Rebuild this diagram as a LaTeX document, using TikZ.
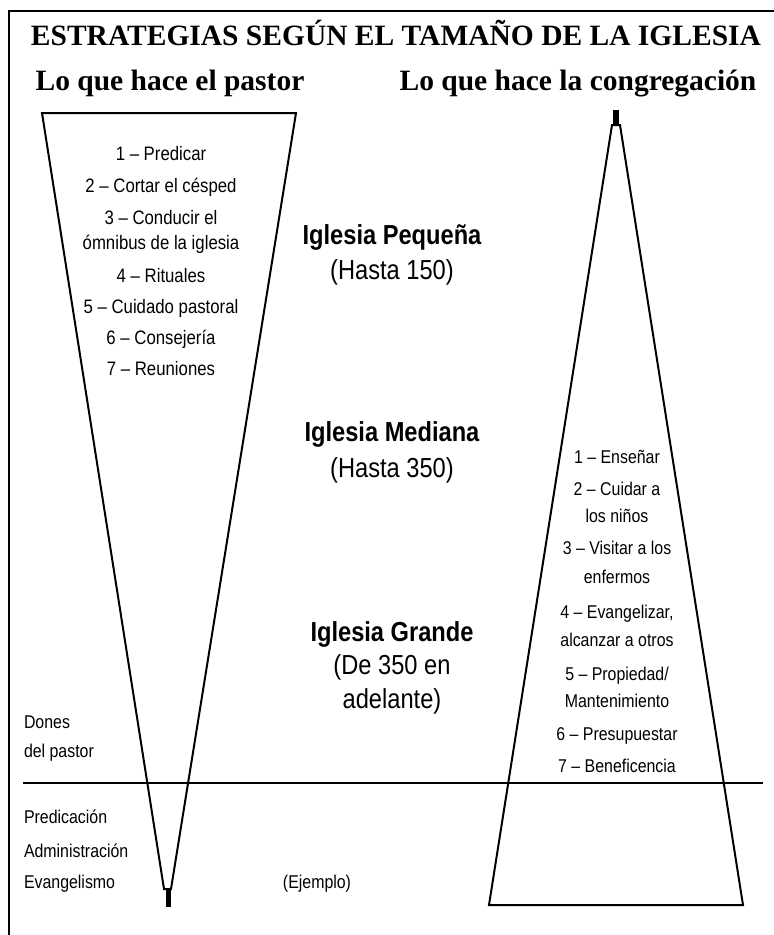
\documentclass[tikz,border=0pt]{standalone}
\usepackage{fontspec}
\setmainfont{Liberation Serif}
\newfontfamily\cond[FakeStretch=0.86]{Liberation Sans}
\begin{document}
\begin{tikzpicture}[x=1pt,y=-1pt,
  txt/.style={anchor=base, inner sep=0pt, outer sep=0pt},
  ttl/.style={txt, font=\bfseries\fontsize{29.5}{32}\selectfont},
  lista/.style={txt, font=\cond\fontsize{19.5}{22}\selectfont},
  listb/.style={txt, font=\cond\fontsize{18.5}{21}\selectfont},
  sizebold/.style={txt, font=\cond\bfseries\fontsize{27.5}{30}\selectfont},
  sizereg/.style={txt, font=\cond\fontsize{27.5}{30}\selectfont},
  side/.style={txt, anchor=base west, font=\cond\fontsize{18.5}{21}\selectfont},
  tri/.style={line width=2pt, line join=miter}]
\useasboundingbox (0,0) rectangle (774,935);
\fill[white] (0,0) rectangle (774,935);
% frame (top and left only)
\draw[line width=2.5pt] (9,935) -- (9,11) -- (774,11);
% titles
\node[ttl] (title) at (396,45) {ESTRATEGIAS SEGÚN EL TAMAÑO DE LA IGLESIA};
\node[ttl] (hpastor) at (170,90) {Lo que hace el pastor};
\node[ttl] (hcong) at (578,90) {Lo que hace la congregación};
% left inverted triangle
\coordinate (LTL) at (42,113);
\coordinate (LTR) at (296,113);
\coordinate (LBL) at (164,889);
\coordinate (LBR) at (171,889);
\draw[tri] (LBL) -- (LTL) -- (LTR) -- (LBR) -- cycle;
\fill (166,888) rectangle (171,907);
% right triangle
\coordinate (RTL) at (612,125);
\coordinate (RTR) at (620,125);
\coordinate (RBL) at (489,905);
\coordinate (RBR) at (743,905);
\draw[tri] (RTL) -- (RBL) -- (RBR) -- (RTR) -- cycle;
\fill (613,110) rectangle (619,126);
% dividing line
\coordinate (HL) at (23,783);
\coordinate (HR) at (763,783);
\draw[line width=2pt] (HL) -- (HR);
% pastor list
\node[lista] (p1) at (161,160) {1 – Predicar};
\node[lista] (p2) at (161,192) {2 – Cortar el césped};
\node[lista] (p3a) at (161,224) {3 – Conducir el};
\node[lista] (p3b) at (161,249) {ómnibus de la iglesia};
\node[lista] (p4) at (161,282) {4 – Rituales};
\node[lista] (p5) at (161,313) {5 – Cuidado pastoral};
\node[lista] (p6) at (161,344) {6 – Consejería};
\node[lista] (p7) at (161,375) {7 – Reuniones};
% church sizes
\node[sizebold] (peq) at (392,244) {Iglesia Pequeña};
\node[sizereg] (peqn) at (392,279) {(Hasta 150)};
\node[sizebold] (med) at (392,441) {Iglesia Mediana};
\node[sizereg] (medn) at (392,477) {(Hasta 350)};
\node[sizebold] (gra) at (392,641) {Iglesia Grande};
\node[sizereg] (gran1) at (392,674) {(De 350 en};
\node[sizereg] (gran2) at (392,708) {adelante)};
% congregation list
\node[listb] (c1) at (617,463) {1 – Enseñar};
\node[listb] (c2a) at (617,495) {2 – Cuidar a};
\node[listb] (c2b) at (617,522) {los niños};
\node[listb] (c3a) at (617,554) {3 – Visitar a los};
\node[listb] (c3b) at (617,583) {enfermos};
\node[listb] (c4a) at (617,618) {4 – Evangelizar,};
\node[listb] (c4b) at (617,646) {alcanzar a otros};
\node[listb] (c5a) at (617,680) {5 – Propiedad/};
\node[listb] (c5b) at (617,707) {Mantenimiento};
\node[listb] (c6) at (617,740) {6 – Presupuestar};
\node[listb] (c7) at (617,772) {7 – Beneficencia};
% side labels
\node[side] (d1) at (24,728) {Dones};
\node[side] (d2) at (24,757) {del pastor};
\node[side] (g1) at (24,823) {Predicación};
\node[side] (g2) at (24,857) {Administración};
\node[side] (g3) at (24,888) {Evangelismo};
\node[txt, font=\cond\fontsize{18.5}{21}\selectfont] (ej) at (317,888) {(Ejemplo)};
\end{tikzpicture}
\end{document}
